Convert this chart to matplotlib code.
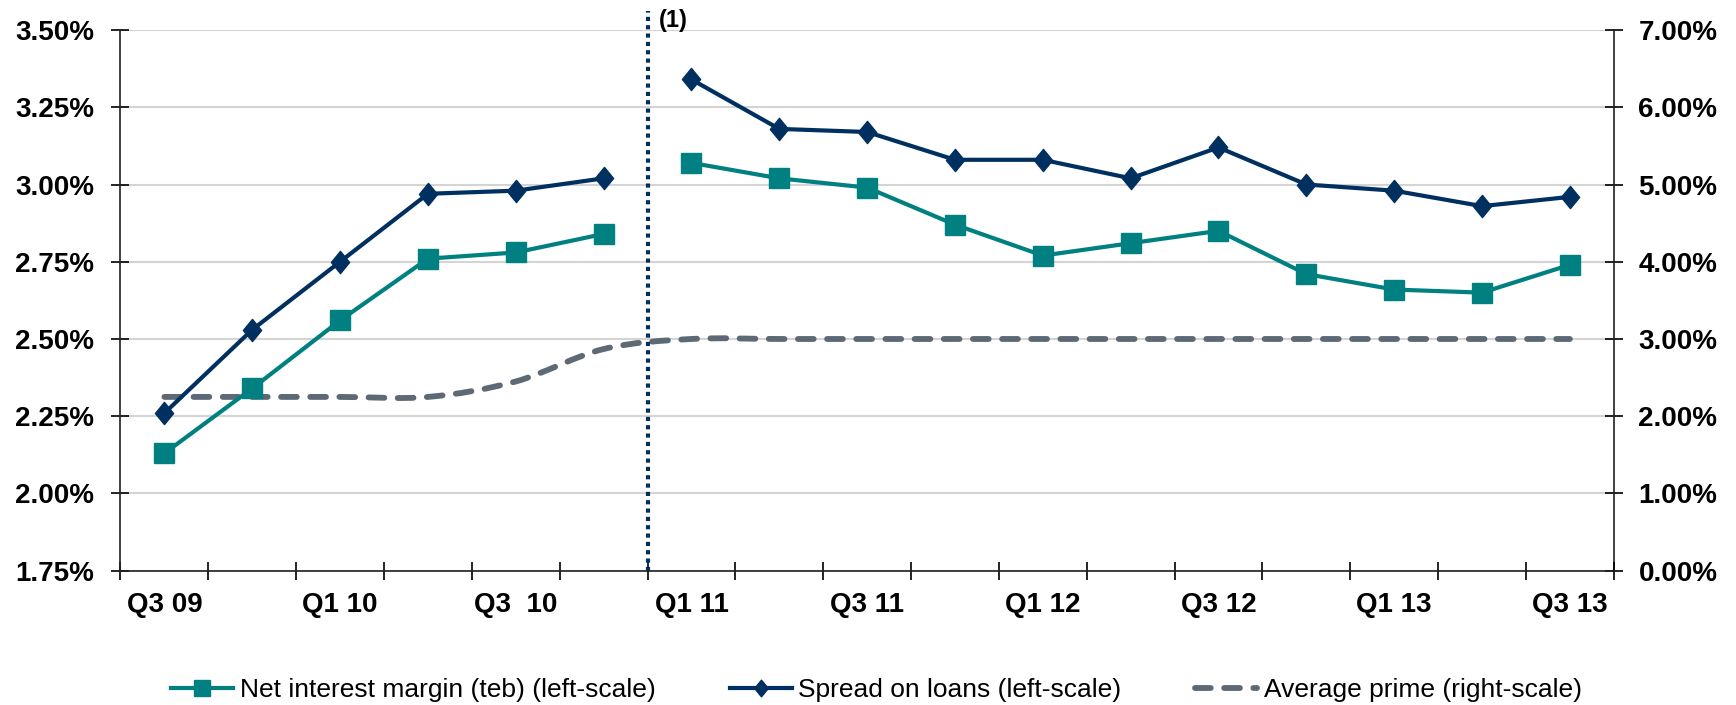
import numpy as np
import matplotlib.pyplot as plt
from matplotlib.path import Path
from matplotlib.patches import PathPatch
from matplotlib.lines import Line2D
from matplotlib.ticker import FixedLocator, FuncFormatter, NullFormatter

plt.rcParams['font.family'] = ['Liberation Sans', 'DejaVu Sans']
plt.rcParams['font.weight'] = 'bold'

# Quarterly data (%)
quarters = ['Q3 09', 'Q4 09', 'Q1 10', 'Q2 10', 'Q3 10', 'Q4 10',
            'Q1 11', 'Q2 11', 'Q3 11', 'Q4 11', 'Q1 12', 'Q2 12',
            'Q3 12', 'Q4 12', 'Q1 13', 'Q2 13', 'Q3 13']
tick_labels = ['Q3 09', 'Q1 10', 'Q3  10', 'Q1 11', 'Q3 11',
               'Q1 12', 'Q3 12', 'Q1 13', 'Q3 13']
nim = [2.13, 2.34, 2.56, 2.76, 2.78, 2.84,
       3.07, 3.02, 2.99, 2.87, 2.77, 2.81, 2.85, 2.71, 2.66, 2.65, 2.74]
spread = [2.26, 2.53, 2.75, 2.97, 2.98, 3.02,
          3.34, 3.18, 3.17, 3.08, 3.08, 3.02, 3.12, 3.00, 2.98, 2.93, 2.96]
prime = [2.25, 2.25, 2.25, 2.25, 2.45, 2.87,
         3.00, 3.00, 3.00, 3.00, 3.00, 3.00, 3.00, 3.00, 3.00, 3.00, 3.00]
first_new = quarters.index('Q1 11')  # series restart after the break

left_ticks = [1.75, 2.00, 2.25, 2.50, 2.75, 3.00, 3.25, 3.50]
right_ticks = [0, 1, 2, 3, 4, 5, 6, 7]

teal = '#008080'
navy = '#00305F'
grey = '#5D6975'


def smooth_path(x, y):
    # cubic bezier through the points (Excel-style smoothed line)
    p = np.column_stack([x, y]).astype(float)
    p_ext = np.vstack([p[0], p, p[-1]])
    verts = [tuple(p[0])]
    codes = [Path.MOVETO]
    for i in range(len(p) - 1):
        c1 = p_ext[i + 1] + (p_ext[i + 2] - p_ext[i]) / 6
        c2 = p_ext[i + 2] - (p_ext[i + 3] - p_ext[i + 1]) / 6
        verts += [tuple(c1), tuple(c2), tuple(p[i + 1])]
        codes += [Path.CURVE4] * 3
    return Path(verts, codes)


fig = plt.figure(figsize=(17.36, 7.05), dpi=100)
ax1 = fig.add_axes([0.0694, 0.1905, 0.8602, 0.7669])
ax2 = ax1.twinx()
ax1.set_zorder(ax2.get_zorder() + 1)
ax1.patch.set_visible(False)

x = np.arange(len(quarters))

# Average prime on the right scale, smoothed dashed line
ax2.add_patch(PathPatch(smooth_path(x, prime), fill=False, edgecolor=grey,
                        lw=4.2, linestyle=(0, (2.7, 2.3)), capstyle='round'))
ax2.set_ylim(0, 7)
ax2.yaxis.set_major_locator(FixedLocator(right_ticks))
ax2.yaxis.set_major_formatter(FuncFormatter(lambda v, p: f'{v:.2f}%'))
ax2.grid(axis='y', color='#D4D4D4', lw=1.5)
ax2.set_axisbelow(True)

diamond = Path([(0, 1), (0.82, 0), (0, -1), (-0.82, 0), (0, 1)],
               [Path.MOVETO, Path.LINETO, Path.LINETO, Path.LINETO, Path.CLOSEPOLY])

for seg in (slice(0, first_new), slice(first_new, None)):
    ax1.plot(x[seg], np.array(nim)[seg], color=teal, lw=3, marker='s', ms=14)
    ax1.plot(x[seg], np.array(spread)[seg], color=navy, lw=3, marker=diamond, ms=16)

ax1.set_xlim(-0.5, len(quarters) - 0.5)
ax1.set_ylim(1.75, 3.5)
ax1.yaxis.set_major_locator(FixedLocator(left_ticks))
ax1.yaxis.set_major_formatter(FuncFormatter(lambda v, p: f'{v:.2f}%'))

# boundary ticks between quarters, labels every other quarter
ax1.xaxis.set_major_locator(FixedLocator(np.arange(-0.5, len(quarters), 1)))
ax1.xaxis.set_major_formatter(NullFormatter())
ax1.xaxis.set_minor_locator(FixedLocator(x[::2]))
ax1.xaxis.set_minor_formatter(FuncFormatter(lambda v, p: tick_labels[int(round(v)) // 2]))
ax1.tick_params(axis='x', which='major', direction='inout', length=13, width=1.2)
ax1.tick_params(axis='x', which='minor', length=0, labelsize=20, pad=15)
ax1.tick_params(axis='y', direction='inout', length=13.5, width=1.2, labelsize=20, pad=12)
ax2.tick_params(axis='y', direction='inout', length=13.5, width=1.2, labelsize=20, pad=11)

for s in ('top', 'right'):
    ax1.spines[s].set_visible(False)
for s in ('top', 'left', 'bottom'):
    ax2.spines[s].set_visible(False)
for ax in (ax1, ax2):
    for s in ax.spines.values():
        s.set_linewidth(1.2)
        s.set_color('#202020')

# break marker between Q4 10 and Q1 11
ax1.axvline(first_new - 0.5, ymin=0, ymax=1.035, color=navy, lw=3,
            linestyle=(0, (1, 1)), clip_on=False)
fig.text(659 / 1736, 1 - 21 / 705, '(1)', fontsize=17, fontweight='bold',
         ha='left', va='center')

handles = [
    Line2D([], [], color=teal, lw=3, marker='s', ms=12),
    Line2D([], [], color=navy, lw=3, marker=diamond, ms=12),
    Line2D([], [], color=grey, lw=4.2, linestyle=(0, (2.7, 2.3)), dash_capstyle='round'),
]
labels = ['Net interest margin (teb) (left-scale)',
          'Spread on loans (left-scale)',
          'Average prime (right-scale)']
fig.legend(handles, labels, loc='center', bbox_to_anchor=(0.505, 15 / 705),
           ncol=3, frameon=False, handlelength=2.35, handletextpad=0.25,
           columnspacing=2.8, prop={'size': 19, 'weight': 'normal'})

fig.savefig('out.png', dpi=100)
